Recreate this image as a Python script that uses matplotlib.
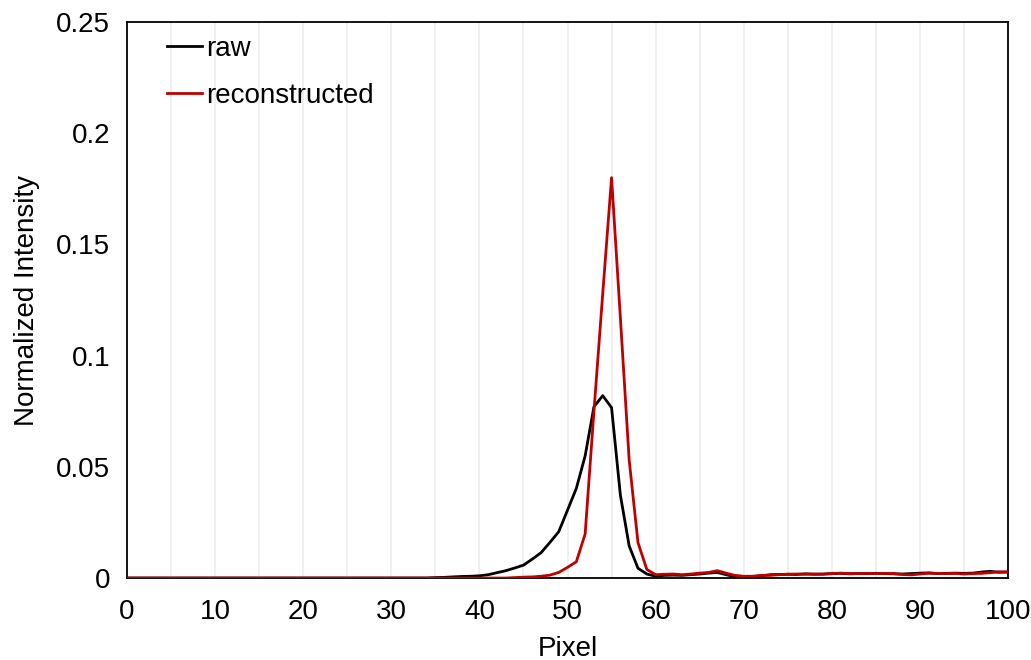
import matplotlib
matplotlib.use("Agg")
import matplotlib.pyplot as plt
import numpy as np

plt.rcParams['font.family'] = ['Liberation Sans', 'DejaVu Sans']

pixel = np.arange(0, 101)

raw = [0.0] * 35 + [
    0.0002, 0.0003, 0.0005, 0.0007, 0.0008, 0.0010, 0.0015, 0.0024, 0.0033, 0.0045,   # 35-44
    0.0058, 0.0085, 0.0114, 0.0160, 0.0208, 0.0305, 0.0403, 0.0549, 0.0770, 0.0820,   # 45-54
    0.0766, 0.0373, 0.0144, 0.0044, 0.0018, 0.0008, 0.0012, 0.0013, 0.0012, 0.0015,   # 55-64
    0.0018, 0.0022, 0.0025, 0.0015, 0.0006, 0.0004, 0.0006, 0.0010, 0.0015, 0.0016,   # 65-74
    0.0017, 0.0016, 0.0019, 0.0017, 0.0018, 0.0020, 0.0021, 0.0019, 0.0020, 0.0020,   # 75-84
    0.0021, 0.0020, 0.0019, 0.0018, 0.0020, 0.0022, 0.0023, 0.0020, 0.0021, 0.0022,   # 85-94
    0.0021, 0.0022, 0.0027, 0.0030, 0.0026, 0.0027,                                   # 95-100
]

reconstructed = [0.0] * 44 + [
    0.0002, 0.0004, 0.0005, 0.0008, 0.0013, 0.0025,                                   # 44-49
    0.0048, 0.0073, 0.0198, 0.0750, 0.1280, 0.1800, 0.1170, 0.0530, 0.0159, 0.0039,   # 50-59
    0.0015, 0.0017, 0.0018, 0.0015, 0.0018, 0.0022, 0.0025, 0.0033, 0.0022, 0.0012,   # 60-69
    0.0008, 0.0008, 0.0012, 0.0012, 0.0015, 0.0017, 0.0018, 0.0017, 0.0018, 0.0017,   # 70-79
    0.0020, 0.0022, 0.0020, 0.0020, 0.0021, 0.0020, 0.0021, 0.0020, 0.0016, 0.0014,   # 80-89
    0.0018, 0.0022, 0.0021, 0.0020, 0.0021, 0.0018, 0.0020, 0.0021, 0.0024, 0.0028,   # 90-99
    0.0027,                                                                           # 100
]

x_ticks = np.arange(0, 101, 10)
y_ticks = [0, 0.05, 0.1, 0.15, 0.2, 0.25]
y_tick_labels = ["0", "0.05", "0.1", "0.15", "0.2", "0.25"]

fig = plt.figure(figsize=(10.31, 6.6), dpi=100)
ax = fig.add_axes([0.1232, 0.1242, 0.8545, 0.8425])

# light vertical gridlines every 5 pixels
for gx in range(5, 100, 5):
    ax.axvline(gx, color='#efefef', lw=1.4, zorder=0)

ax.plot(pixel, raw, color='black', lw=2.0, label='raw', zorder=3)
ax.plot(pixel, reconstructed, color='#c00000', lw=2.0, label='reconstructed', zorder=4)

ax.set_xlim(0, 100)
ax.set_ylim(0, 0.25)
ax.set_xticks(x_ticks)
ax.set_yticks(y_ticks)
ax.set_yticklabels(y_tick_labels)
ax.tick_params(length=0, labelsize=20)
ax.tick_params(axis='x', pad=15)
ax.tick_params(axis='y', pad=12)

for s in ax.spines.values():
    s.set_color('black')
    s.set_linewidth(1.3)

ax.set_xlabel("Pixel", fontsize=20, labelpad=8)
ax.set_ylabel("Normalized Intensity", fontsize=20, labelpad=12)

ax.legend(loc='upper left', frameon=False, fontsize=20, handlelength=1.25,
          handletextpad=0.15, labelspacing=0.75, bbox_to_anchor=(0.03, 1.0),
          borderaxespad=0.1)

fig.savefig("out.png", dpi=100)
